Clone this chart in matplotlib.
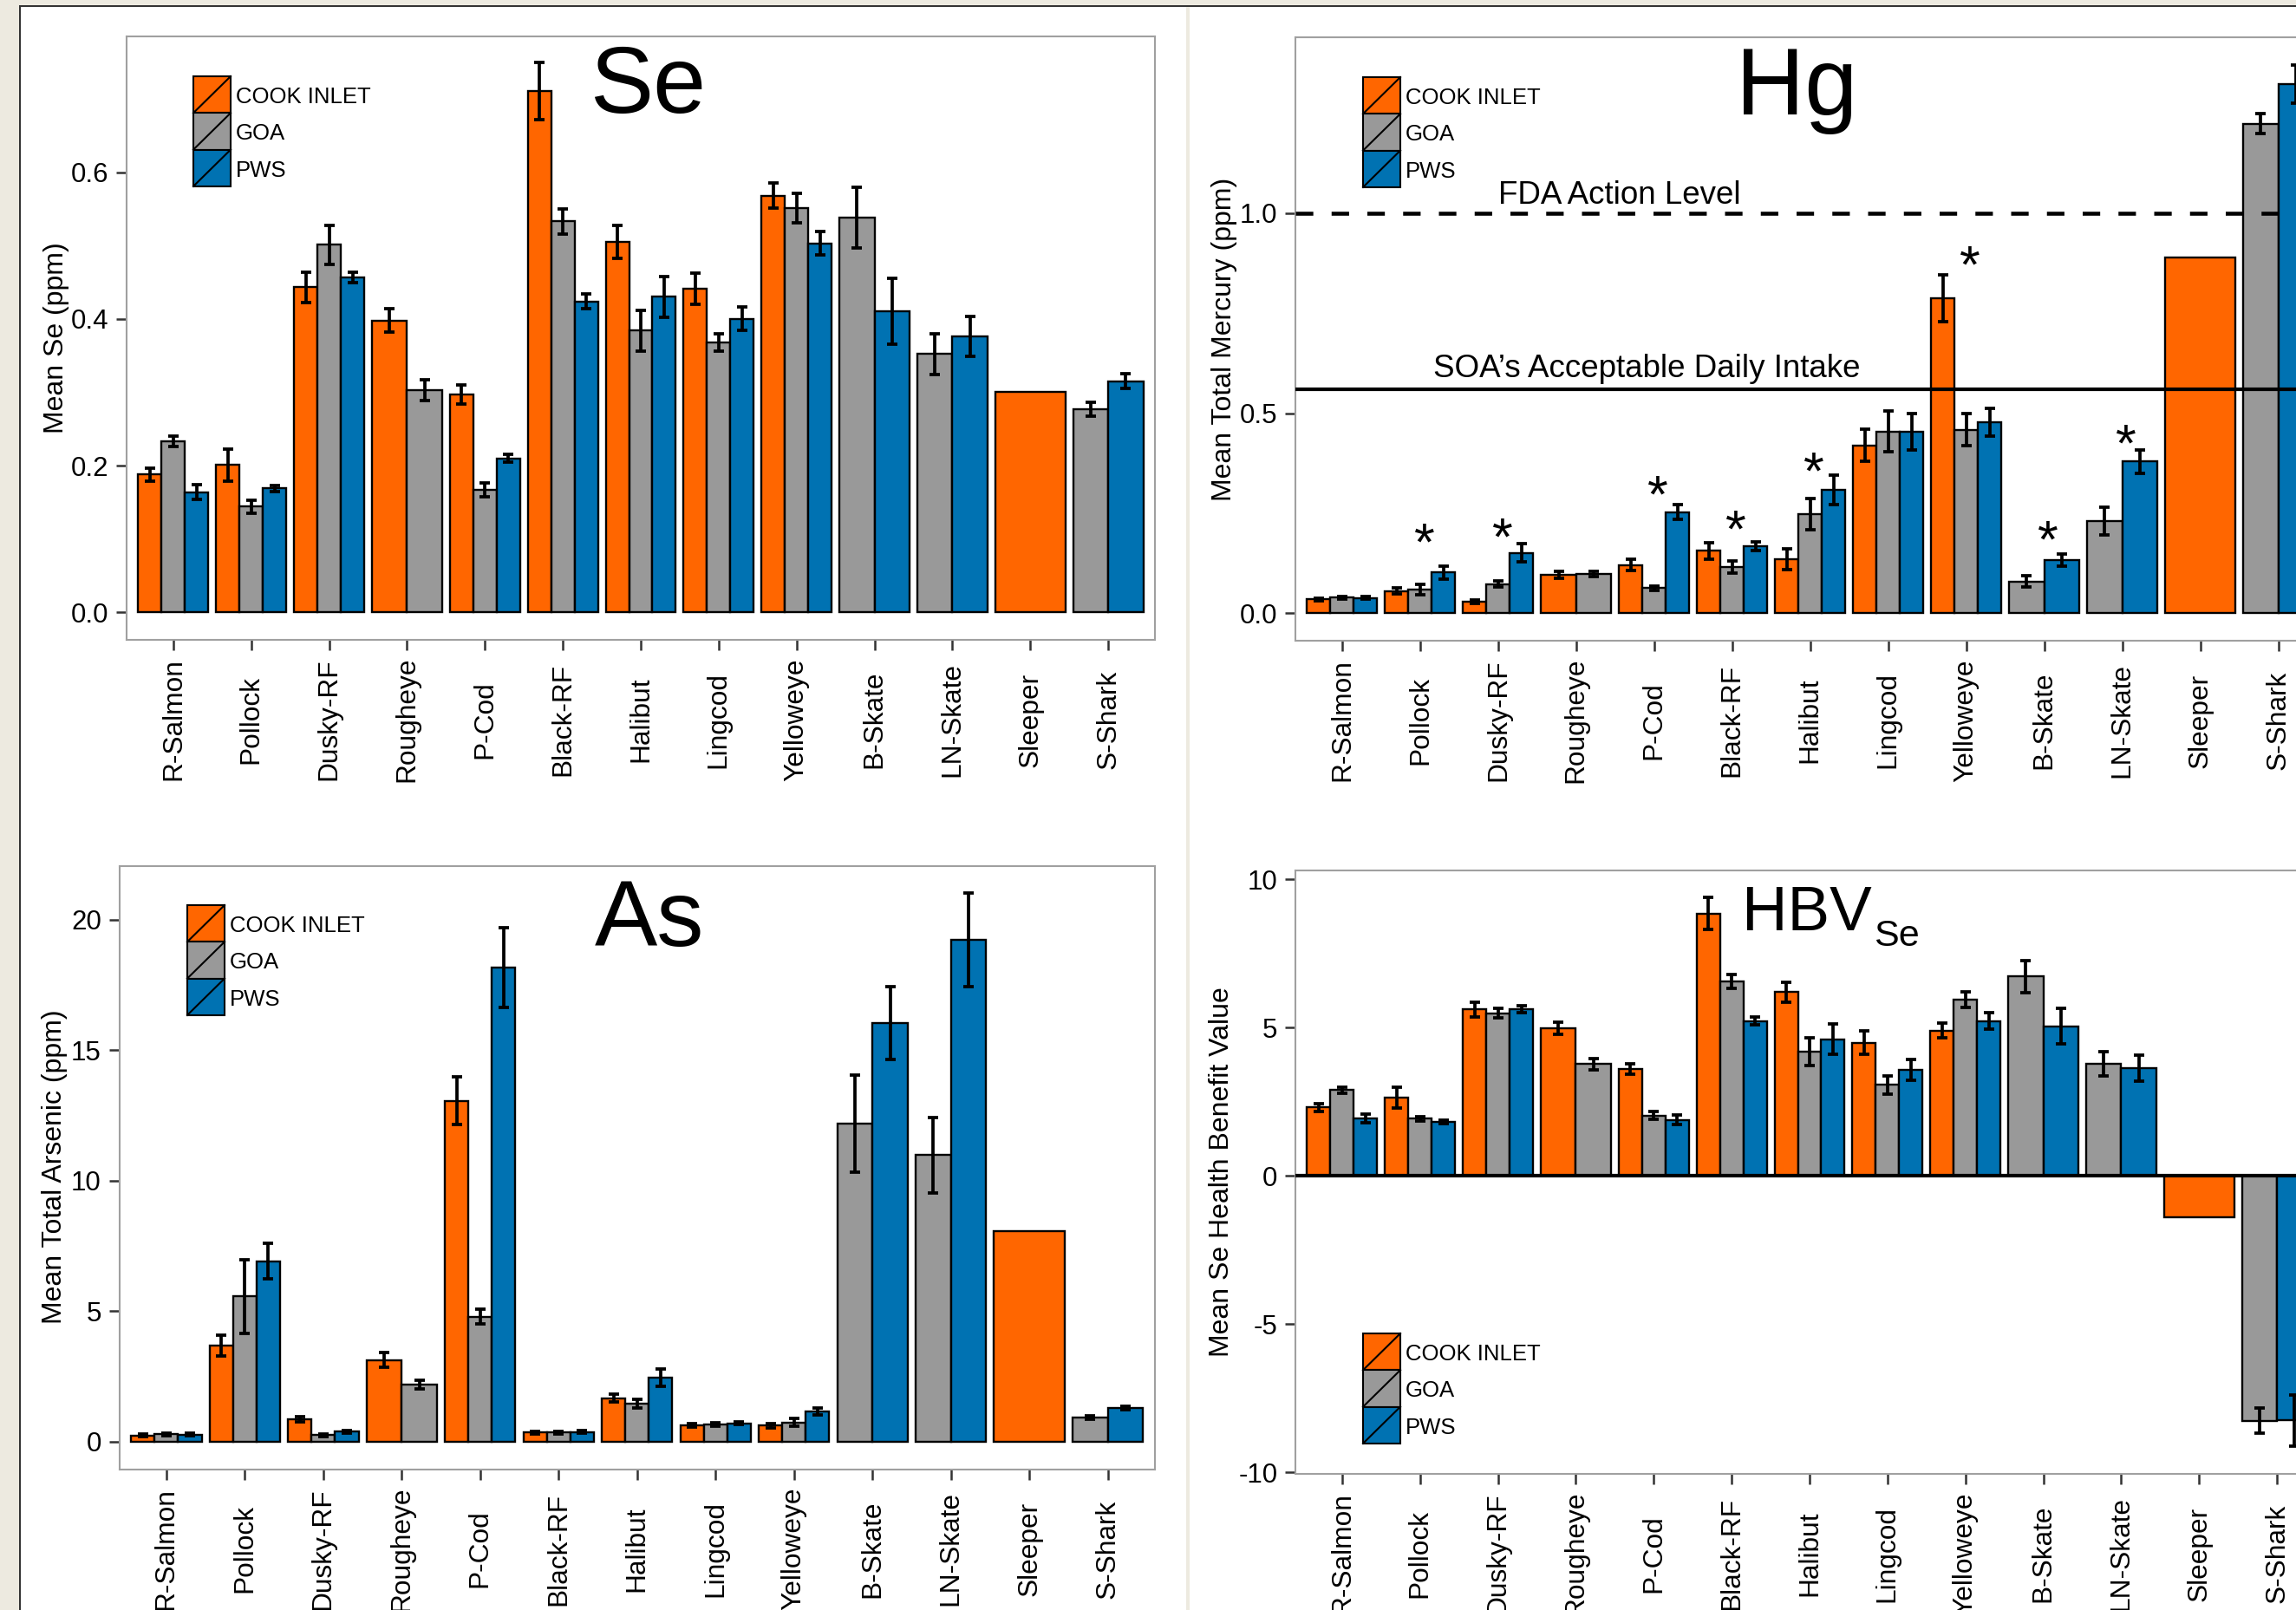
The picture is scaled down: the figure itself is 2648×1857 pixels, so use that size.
import numpy as np
import matplotlib
matplotlib.use('Agg')
from matplotlib import pyplot as plt
from matplotlib.patches import Rectangle
from matplotlib.lines import Line2D

plt.rcParams['font.family'] = ['Liberation Sans', 'DejaVu Sans']

nan = np.nan

cats = ['R-Salmon', 'Pollock', 'Dusky-RF', 'Rougheye', 'P-Cod', 'Black-RF', 'Halibut',
        'Lingcod', 'Yelloweye', 'B-Skate', 'LN-Skate', 'Sleeper', 'S-Shark']
regions = ['COOK INLET', 'GOA', 'PWS']
colors = ['#FF6600', '#999999', '#0072B2']

## Se (ppm)
se_cook = [0.188, 0.201, 0.443, 0.398, 0.297, 0.710, 0.505, 0.441, 0.568, nan, nan, 0.300, nan]
se_cook_err = [0.009, 0.022, 0.021, 0.016, 0.013, 0.039, 0.022, 0.021, 0.017, nan, nan, nan, nan]
se_goa = [0.233, 0.144, 0.501, 0.303, 0.167, 0.533, 0.384, 0.368, 0.551, 0.538, 0.352, nan, 0.277]
se_goa_err = [0.007, 0.009, 0.027, 0.014, 0.009, 0.017, 0.028, 0.012, 0.020, 0.041, 0.028, nan, 0.009]
se_pws = [0.164, 0.169, 0.457, nan, 0.210, 0.424, 0.430, 0.400, 0.503, 0.410, 0.376, nan, 0.315]
se_pws_err = [0.010, 0.004, 0.007, nan, 0.005, 0.010, 0.028, 0.016, 0.016, 0.045, 0.027, nan, 0.010]

## Hg (ppm)
hg_cook = [0.035, 0.056, 0.029, 0.096, 0.121, 0.156, 0.136, 0.420, 0.787, nan, nan, 0.889, nan]
hg_cook_err = [0.003, 0.008, 0.005, 0.009, 0.014, 0.021, 0.026, 0.041, 0.059, nan, nan, nan, nan]
hg_goa = [0.039, 0.059, 0.073, 0.098, 0.063, 0.115, 0.248, 0.454, 0.459, 0.079, 0.231, nan, 1.224]
hg_goa_err = [0.003, 0.013, 0.008, 0.006, 0.006, 0.015, 0.039, 0.051, 0.040, 0.014, 0.035, nan, 0.025]
hg_pws = [0.038, 0.102, 0.151, nan, 0.253, 0.168, 0.308, 0.454, 0.478, 0.133, 0.379, nan, 1.323]
hg_pws_err = [0.003, 0.016, 0.023, nan, 0.018, 0.011, 0.037, 0.045, 0.035, 0.015, 0.029, nan, 0.048]
hg_fda = 1.0
hg_soa = 0.56
hg_star_cats = ['Pollock', 'Dusky-RF', 'P-Cod', 'Black-RF', 'Halibut', 'Yelloweye', 'B-Skate', 'LN-Skate']
hg_star_y = [0.212, 0.225, 0.332, 0.244, 0.390, 0.906, 0.218, 0.460]

## As (ppm)
as_cook = [0.23, 3.69, 0.85, 3.12, 13.06, 0.35, 1.67, 0.62, 0.62, nan, nan, 8.08, nan]
as_cook_err = [0.05, 0.40, 0.10, 0.28, 0.91, 0.05, 0.15, 0.06, 0.08, nan, nan, nan, nan]
as_goa = [0.29, 5.56, 0.25, 2.19, 4.79, 0.35, 1.46, 0.67, 0.73, 12.17, 10.98, nan, 0.92]
as_goa_err = [0.05, 1.41, 0.05, 0.16, 0.29, 0.05, 0.16, 0.07, 0.15, 1.86, 1.45, nan, 0.06]
as_pws = [0.27, 6.92, 0.38, nan, 18.17, 0.37, 2.44, 0.71, 1.15, 16.04, 19.23, nan, 1.29]
as_pws_err = [0.05, 0.68, 0.04, nan, 1.52, 0.05, 0.33, 0.06, 0.13, 1.39, 1.80, nan, 0.07]

## HBV Se
hbv_cook = [2.31, 2.65, 5.61, 4.97, 3.60, 8.85, 6.20, 4.49, 4.90, nan, nan, -1.40, nan]
hbv_cook_err = [0.13, 0.35, 0.26, 0.21, 0.17, 0.53, 0.34, 0.40, 0.25, nan, nan, nan, nan]
hbv_goa = [2.89, 1.93, 5.49, 3.77, 2.04, 6.55, 4.19, 3.07, 5.95, 6.72, 3.78, nan, -8.26]
hbv_goa_err = [0.10, 0.08, 0.16, 0.19, 0.14, 0.24, 0.47, 0.31, 0.26, 0.55, 0.41, nan, 0.43]
hbv_pws = [1.93, 1.81, 5.63, nan, 1.89, 5.22, 4.61, 3.58, 5.22, 5.05, 3.63, nan, -8.25]
hbv_pws_err = [0.14, 0.06, 0.12, nan, 0.17, 0.13, 0.51, 0.36, 0.28, 0.60, 0.44, nan, 0.87]

W, H = 2648, 1857
PX = 72.0 / 100  # points per pixel

fig = plt.figure(figsize=(W / 100, H / 100), dpi=100, facecolor='white')


def fx(x):
    return x / W


def fy(y):
    return 1 - y / H


## page background and borders
beige = '#EDEAE0'
for (x0, y0, x1, y1, c) in [(0, 0, 22, H, beige), (0, 0, W, 6, beige),
                            (1368, 0, 1372, H, beige),
                            (22, 6, W, 8, '#333333'), (22, 6, 24, H, '#333333')]:
    fig.patches.append(Rectangle((fx(x0), fy(y1)), (x1 - x0) / W, (y1 - y0) / H,
                                 transform=fig.transFigure, facecolor=c, edgecolor='none', zorder=0))


def add_panel(left, top, right, bottom, ylim, yticks, fmt):
    ax = fig.add_axes([fx(left), fy(bottom), (right - left) / W, (bottom - top) / H])
    ax.set_xlim(0.4, 13.6)
    ax.set_ylim(*ylim)
    ax.set_yticks(yticks)
    ax.set_yticklabels([fmt.format(v) for v in yticks], fontsize=22.5)
    ax.set_xticks(np.arange(1, 14))
    ax.set_xticklabels([])
    for s in ax.spines.values():
        s.set_color('#A0A0A0')
        s.set_linewidth(1.5)
    ax.tick_params(direction='out', length=8.4, width=1.8, color='#333333', pad=6.5)
    for i, c in enumerate(cats):
        ax.annotate(c, xy=(i + 1, 0), xycoords=('data', 'axes fraction'),
                    xytext=(0, -92 * PX), textcoords='offset points',
                    rotation=90, ha='center', va='center', fontsize=22.8, annotation_clip=False)
    return ax


def draw_bars(ax, vals, errs):
    for i in range(len(cats)):
        present = [k for k in range(3) if not np.isnan(vals[k][i])]
        w = 0.9 / len(present)
        for j, k in enumerate(present):
            x = i + 1 - 0.45 + w * (j + 0.5)
            ax.bar(x, vals[k][i], width=w, color=colors[k], edgecolor='black', linewidth=1.7, zorder=2)
            if not np.isnan(errs[k][i]):
                ax.errorbar(x, vals[k][i], yerr=errs[k][i], fmt='none', ecolor='black',
                            elinewidth=2.7, capsize=4.4, capthick=2.7, zorder=4)


def draw_legend(x0, y0):
    kw, kh = 43, 42.3
    for k, lab in enumerate(regions):
        top = y0 + k * kh
        fig.patches.append(Rectangle((fx(x0), fy(top + kh)), kw / W, kh / H, transform=fig.transFigure,
                                     facecolor=colors[k], edgecolor='black', linewidth=1.5, zorder=5))
        fig.lines.append(Line2D([fx(x0), fx(x0 + kw)], [fy(top + kh), fy(top)], transform=fig.transFigure,
                                color='black', linewidth=1.5, zorder=6))
        fig.text(fx(x0 + kw + 6), fy(top + kh / 2 + 10), lab, fontsize=18.5, ha='left', va='baseline')


def ylabel(x, y, text):
    fig.text(fx(x), fy(y), text, rotation=90, ha='center', va='center', fontsize=23)


## Se panel
ax_se = add_panel(146, 42, 1332, 738, (-0.0374, 0.785), [0.0, 0.2, 0.4, 0.6], '{:.1f}')
draw_bars(ax_se, [se_cook, se_goa, se_pws], [se_cook_err, se_goa_err, se_pws_err])
draw_legend(223, 88)
ylabel(65, 390, 'Mean Se (ppm)')
fig.text(fx(747), fy(130), 'Se', fontsize=79, ha='center', va='baseline')

## Hg panel
ax_hg = add_panel(1494, 43, 2681.5, 739, (-0.0686, 1.44), [0.0, 0.5, 1.0], '{:.1f}')
draw_bars(ax_hg, [hg_cook, hg_goa, hg_pws], [hg_cook_err, hg_goa_err, hg_pws_err])
ax_hg.axhline(hg_fda, color='black', linewidth=3.3, linestyle=(0, (4.4, 4.6)), zorder=3)
ax_hg.axhline(hg_soa, color='black', linewidth=3.0, zorder=3)
for c, yv in zip(hg_star_cats, hg_star_y):
    ax_hg.annotate('*', xy=(cats.index(c) + 1.05, yv), xytext=(0, -0.59 * 44), textcoords='offset points',
                   ha='center', va='baseline', fontsize=44, zorder=5)
draw_legend(1572, 89)
ylabel(1412, 391, 'Mean Total Mercury (ppm)')
fig.text(fx(1728), fy(235), 'FDA Action Level', fontsize=26.5, ha='left', va='baseline')
fig.text(fx(1653), fy(435), 'SOA\u2019s Acceptable Daily Intake', fontsize=26.5, ha='left', va='baseline')
fig.text(fx(2072), fy(132), 'Hg', fontsize=79, ha='center', va='baseline')

## As panel
ax_as = add_panel(137.5, 998.6, 1332, 1694.5, (-1.05, 22.06), [0, 5, 10, 15, 20], '{:d}')
draw_bars(ax_as, [as_cook, as_goa, as_pws], [as_cook_err, as_goa_err, as_pws_err])
draw_legend(216, 1044)
ylabel(63, 1346, 'Mean Total Arsenic (ppm)')
fig.text(fx(749), fy(1090.6), 'As', fontsize=78, ha='center', va='baseline')

## HBV panel
ax_hbv = add_panel(1494, 1004, 2680, 1700, (-10.05, 10.3), [-10, -5, 0, 5, 10], '{:d}')
draw_bars(ax_hbv, [hbv_cook, hbv_goa, hbv_pws], [hbv_cook_err, hbv_goa_err, hbv_pws_err])
ax_hbv.axhline(0, color='black', linewidth=3.0, zorder=3)
draw_legend(1572, 1538)
ylabel(1409, 1352, 'Mean Se Health Benefit Value')
fig.text(fx(2009), fy(1073), 'HBV', fontsize=52.5, ha='left', va='baseline')
fig.text(fx(2161), fy(1090.6), 'Se', fontsize=31, ha='left', va='baseline')

fig.savefig('out.png', dpi=100)
